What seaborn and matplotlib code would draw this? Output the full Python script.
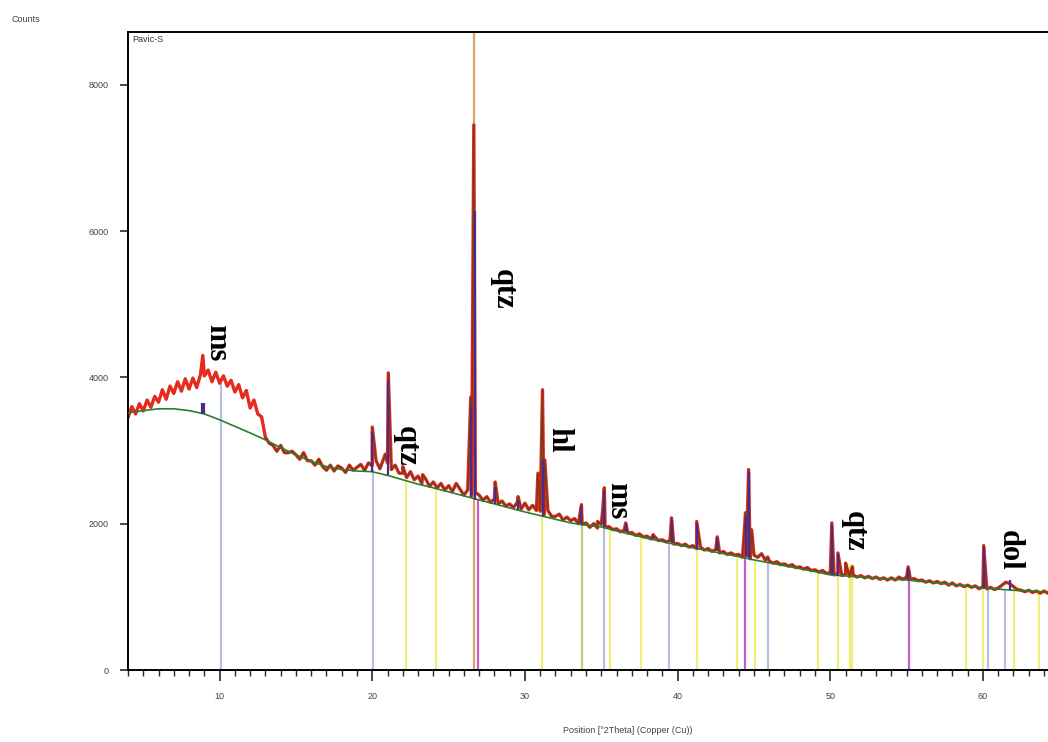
import numpy as np
import pandas as pd
import seaborn as sns
from matplotlib import pyplot as plt
from matplotlib.ticker import MultipleLocator

# observed pattern, 0.25 deg step starting at 4.0 deg 2Theta
obs_start = 4.0
obs_step = 0.25
obs_counts = [
    3450, 3600, 3500, 3640, 3540, 3690, 3590, 3740,
    3660, 3830, 3700, 3880, 3780, 3940, 3810, 3980,
    3840, 3990, 3860, 4040, 4020, 4100, 3940, 4070,
    3920, 4020, 3880, 3960, 3800, 3900, 3720, 3820,
    3580, 3690, 3500, 3460, 3180, 3100, 3070, 2990,
    3070, 2970, 2970, 2990, 2940, 2880, 2970, 2860,
    2860, 2800, 2880, 2780, 2730, 2800, 2720, 2790,
    2760, 2700, 2800, 2730, 2770, 2810, 2730, 2830,
    2790, 2860, 2750, 2890, 2830, 2740, 2800, 2690,
    2690, 2630, 2710, 2600, 2650, 2550, 2610, 2510,
    2570, 2490, 2550, 2460, 2520, 2440, 2550, 2470,
    2390, 2460, 2380, 2430, 2390, 2320, 2370, 2290,
    2340, 2270, 2310, 2240, 2270, 2220, 2290, 2200,
    2280, 2190, 2250, 2180, 2170, 2120, 2180, 2100,
    2100, 2130, 2050, 2090, 2040, 2070, 2000, 1990,
    2010, 1950, 2000, 1940, 1990, 1950, 1960, 1920,
    1930, 1890, 1910, 1870, 1880, 1840, 1860, 1820,
    1830, 1790, 1820, 1770, 1780, 1750, 1770, 1720,
    1730, 1700, 1720, 1680, 1700, 1660, 1680, 1640,
    1660, 1620, 1650, 1600, 1620, 1580, 1600, 1570,
    1580, 1540, 1560, 1520, 1570, 1540, 1590, 1500,
    1490, 1460, 1480, 1440, 1450, 1420, 1440, 1400,
    1410, 1380, 1400, 1360, 1370, 1340, 1360, 1320,
    1330, 1300, 1320, 1290, 1310, 1280, 1300, 1270,
    1290, 1260, 1280, 1250, 1270, 1240, 1260, 1230,
    1260, 1230, 1270, 1240, 1270, 1240, 1250, 1220,
    1230, 1200, 1220, 1190, 1210, 1180, 1200, 1160,
    1190, 1150, 1170, 1140, 1160, 1130, 1150, 1110,
    1140, 1110, 1130, 1100, 1120, 1160, 1200, 1180,
    1140, 1100, 1090, 1070, 1090, 1060, 1080, 1050,
    1080, 1050, 1070,
]

# observed peak maxima
peak_pos = [8.9, 20.0, 20.85, 21.05, 22.0, 23.3, 26.45, 26.65, 28.05, 29.55,
            30.85, 31.15, 31.3, 33.7, 34.75, 35.1, 35.2, 36.6, 38.4, 39.6,
            41.25, 42.6, 44.45, 44.65, 44.85, 45.9, 50.1, 50.5, 51.0, 51.45,
            55.1, 60.05]
peak_top = [4300, 3320, 2950, 4060, 2780, 2670, 3730, 7450, 2570, 2370,
            2690, 3830, 2870, 2260, 2030, 2210, 2490, 2010, 1850, 2080,
            2030, 1820, 2150, 2740, 1915, 1545, 2010, 1600, 1460, 1410,
            1410, 1700]

# fitted background
bg_start = 4
bg_counts = [3516, 3545, 3570, 3570, 3545, 3500, 3420, 3330, 3240, 3146,
             3040, 2940, 2850, 2780, 2740, 2720, 2710, 2660, 2600, 2540,
             2490, 2435, 2380, 2325, 2270, 2215, 2160, 2110, 2060, 2010,
             1980, 1956, 1900, 1850, 1800, 1755, 1710, 1670, 1630, 1590,
             1550, 1505, 1465, 1425, 1385, 1345, 1300, 1285, 1270, 1255,
             1240, 1230, 1210, 1190, 1170, 1145, 1120, 1105, 1090, 1080,
             1067]

# calculated peak profiles
calc_pos = [8.85, 9.0, 20.0, 21.05, 26.45, 26.7, 28.05, 29.55, 31.2, 33.7,
            35.2, 36.6, 38.4, 39.6, 41.25, 42.6, 44.45, 44.65, 50.1, 50.5,
            55.1, 60.05, 61.8]
calc_base = [3500, 3500, 2710, 2660, 2360, 2320, 2270, 2190, 2110, 1990,
             1950, 1890, 1790, 1740, 1660, 1620, 1540, 1530, 1300, 1290,
             1230, 1120, 1090]
calc_top = [3650, 3650, 3250, 3950, 3600, 6270, 2500, 2330, 2870, 2230,
            2450, 1990, 1830, 2050, 2000, 1800, 2100, 2700, 1980, 1580,
            1400, 1680, 1230]

# reference pattern sticks
stick_pos = [10.1, 20.05, 22.2, 24.2, 26.65, 26.9, 31.1, 33.75, 35.2, 35.55,
             37.6, 39.45, 41.3, 43.9, 44.4, 45.05, 45.9, 49.2, 50.5, 51.3,
             51.45, 55.15, 58.9, 60.0, 60.3, 61.45, 62.05, 63.65]
stick_top = [3950, 2750, 2600, 2500, 8700, 2330, 3650, 2000, 1960, 1940,
             1830, 1740, 1660, 1550, 2150, 1500, 1470, 1340, 1300, 1450,
             1450, 1400, 1150, 1200, 1120, 1100, 1100, 1080]
stick_phase = ["b", "b", "y", "y", "o", "m", "y", "g", "b", "y",
               "y", "b", "y", "y", "m", "y", "b", "y", "y", "y",
               "y", "m", "y", "y", "b", "b", "y", "y"]

labels = ["ms", "qtz", "qtz", "hl", "ms", "qtz", "dol"]
label_x = [9.8, 28.6, 22.2, 32.2, 36.1, 51.6, 61.7]
label_y = [4480, 5200, 3050, 3150, 2320, 1890, 1640]

phase_colors = {"b": "#b4c0dc", "y": "#f2ee7c", "m": "#c85cc8",
                "g": "#bcd07c", "o": "#d8a860"}

sns.set_style("ticks")
plt.rcParams["font.family"] = ["Liberation Sans", "DejaVu Sans"]

fig = plt.figure(figsize=(10.48, 7.42), dpi=100)
ax = fig.add_axes([128 / 1048, 72 / 742, 1000 / 1048, 638 / 742])

for p, t, ph in zip(stick_pos, stick_top, stick_phase):
    ax.vlines(p, 0, t, color=phase_colors[ph], lw=1.6, zorder=1)

obs_x = obs_start + obs_step * np.arange(len(obs_counts))
df = pd.DataFrame({"pos": np.concatenate([obs_x, peak_pos]),
                   "counts": np.concatenate([obs_counts, peak_top])})
df = df.sort_values("pos", kind="stable")

sns.lineplot(data=df, x="pos", y="counts", color="#e52a1e", lw=2.4,
             estimator=None, sort=False, ax=ax, zorder=2)
sns.lineplot(data=df[df.pos >= 13], x="pos", y="counts", color="#7a3a1c",
             lw=1.0, estimator=None, sort=False, ax=ax, zorder=3)

bg = pd.DataFrame({"pos": bg_start + np.arange(len(bg_counts)),
                   "counts": bg_counts})
sns.lineplot(data=bg, x="pos", y="counts", color="#2c7d2c", lw=1.2,
             estimator=None, ax=ax, zorder=4)

ax.vlines(calc_pos, calc_base, calc_top, color="#4b2a8c", lw=1.6, zorder=5)

for txt, x, y in zip(labels, label_x, label_y):
    ax.text(x, y, txt, rotation=-90, ha="center", va="center",
            fontsize=22, fontweight="bold", family="Liberation Serif",
            color="black", zorder=6)

ax.set_xlim(4.0, 69.5)
ax.set_ylim(0, 8720)
ax.xaxis.set_major_locator(MultipleLocator(10))
ax.xaxis.set_minor_locator(MultipleLocator(1))
ax.yaxis.set_major_locator(MultipleLocator(2000))
ax.tick_params(axis="x", which="major", length=8, width=1.2, labelsize=6.5,
               labelcolor="#444444", pad=8)
ax.tick_params(axis="x", which="minor", length=4, width=1)
ax.tick_params(axis="y", which="major", length=6, width=1.2, labelsize=6.5,
               labelcolor="#444444", pad=8)
for s in ax.spines.values():
    s.set_linewidth(1.4)
    s.set_color("black")

ax.set_xlabel("Position [°2Theta] (Copper (Cu))", fontsize=6.5,
              color="#444444", labelpad=18)
ax.set_ylabel("")
fig.text(12 / 1048, 1 - 20 / 742, "Counts", fontsize=6.5, color="#444444",
         va="center", ha="left")
ax.text(0.004, 0.995, "Pavic-S", transform=ax.transAxes, fontsize=6.5,
        color="#333333", va="top", ha="left")

fig.savefig("out.png", dpi=100)
